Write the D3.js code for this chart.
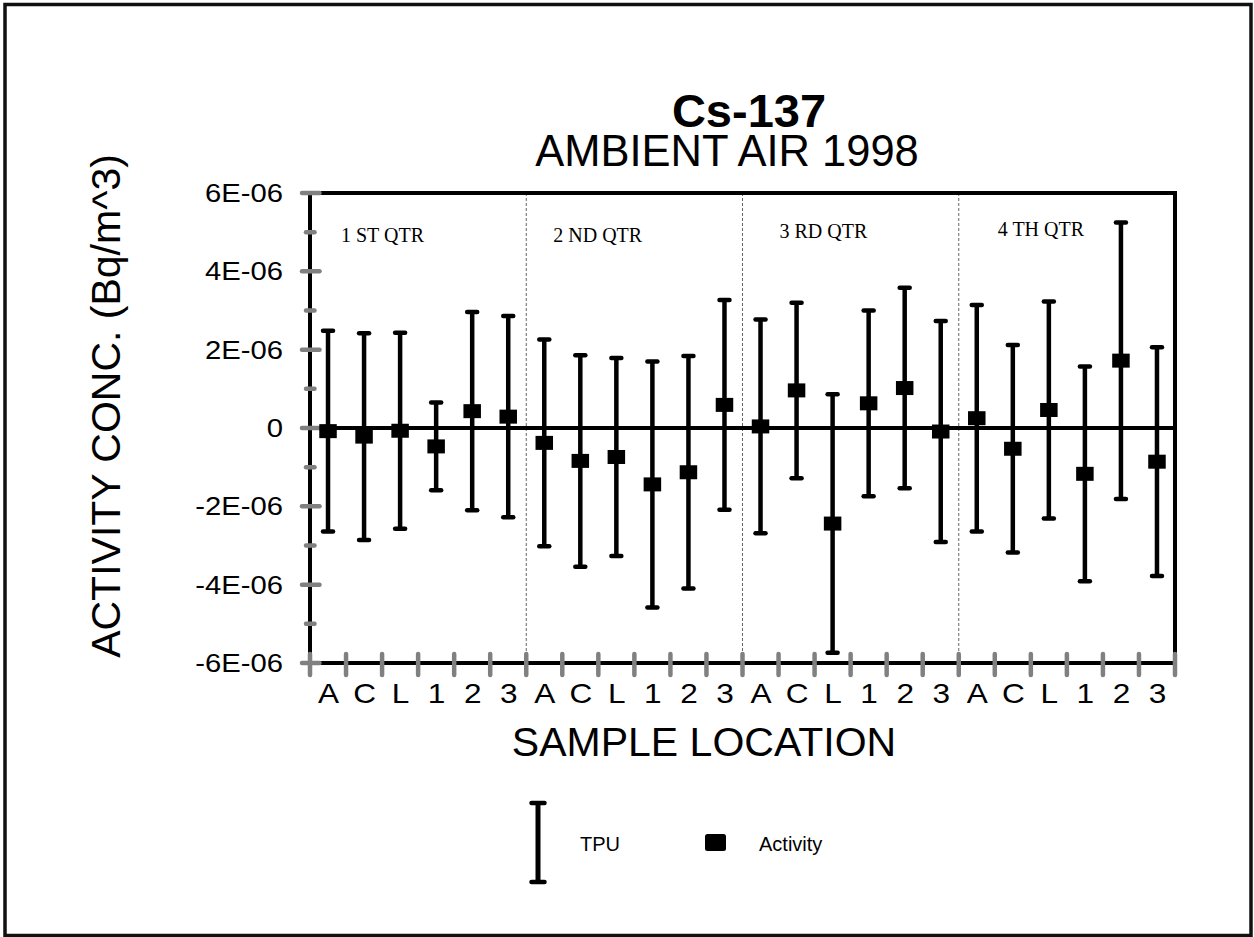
<!DOCTYPE html>
<html>
<head>
<meta charset="utf-8">
<script src="https://cdn.jsdelivr.net/npm/d3@7"></script>
<style>
  html, body { margin: 0; padding: 0; background: #fff; }
  svg { display: block; }
  text { font-family: "Liberation Sans", Arial, Helvetica, sans-serif; fill: #000; }
  .serif { font-family: "Liberation Serif", "Times New Roman", serif; }
</style>
</head>
<body>
<svg id="chart" width="1254" height="937"></svg>
<script>
// ---------------- DATA ----------------
const locations = ["A", "C", "L", "1", "2", "3"];
const quarters = ["1 ST QTR", "2 ND QTR", "3 RD QTR", "4 TH QTR"];
// Activity concentration, units of 1E-06 Bq/m^3 (Q1..Q4, locations A,C,L,1,2,3)
const activityQ1 = [-0.08, -0.22, -0.07, -0.47, 0.43, 0.29];
const activityQ2 = [-0.38, -0.84, -0.74, -1.44, -1.13, 0.59];
const activityQ3 = [0.04, 0.96, -2.44, 0.63, 1.02, -0.09];
const activityQ4 = [0.25, -0.53, 0.46, -1.17, 1.72, -0.86];
// Total propagated uncertainty (TPU), units of 1E-06 Bq/m^3
const tpuQ1 = [2.56, 2.64, 2.50, 1.12, 2.53, 2.57];
const tpuQ2 = [2.64, 2.70, 2.53, 3.14, 2.97, 2.68];
const tpuQ3 = [2.73, 2.24, 3.30, 2.37, 2.56, 2.82];
const tpuQ4 = [2.89, 2.65, 2.77, 2.74, 3.53, 2.92];
const yTickValues = [-6e-6, -4e-6, -2e-6, 0, 2e-6, 4e-6, 6e-6];
const yTickLabels = ["-6E-06", "-4E-06", "-2E-06", "0", "2E-06", "4E-06", "6E-06"];
const yMinorTickValues = [-5e-6, -3e-6, -1e-6, 1e-6, 3e-6, 5e-6];
const titleText = "Cs-137";
const subtitleText = "AMBIENT AIR 1998";
const yTitle = "ACTIVITY CONC. (Bq/m^3)";
const xTitle = "SAMPLE LOCATION";
const legendLabels = ["TPU", "Activity"];

// ---------------- BUILD ----------------
const activity = [activityQ1, activityQ2, activityQ3, activityQ4].flat().map(v => v * 1e-6);
const tpu = [tpuQ1, tpuQ2, tpuQ3, tpuQ4].flat().map(v => v * 1e-6);
const categories = quarters.flatMap(() => locations);
const data = categories.map((c, i) => ({ i, cat: c, v: activity[i], u: tpu[i] }));

const svg = d3.select("#chart");
const L = 310, R = 1175, T = 193, B = 663;
const GREY = "#808080";
const SX = 1.17; // horizontal stretch of tick label type

const x = d3.scaleLinear().domain([0, categories.length]).range([L, R]);
const y = d3.scaleLinear().domain([-6e-6, 6e-6]).range([B, T]);

// outer frame
svg.append("rect").attr("x", 5).attr("y", 4.5).attr("width", 1246).attr("height", 931)
  .attr("fill", "none").attr("stroke", "#111").attr("stroke-width", 3.5);

// titles
svg.append("text").attr("x", 749).attr("y", 127).attr("text-anchor", "middle")
  .attr("font-size", 47).attr("font-weight", "bold").text(titleText);
svg.append("text").attr("x", 727).attr("y", 166).attr("text-anchor", "middle")
  .attr("font-size", 43.5).text(subtitleText);

// quarter dividers
const qLen = locations.length;
for (let q = 1; q < quarters.length; q++) {
  svg.append("line").attr("x1", x(q * qLen)).attr("x2", x(q * qLen))
    .attr("y1", T).attr("y2", B)
    .attr("stroke", "#666").attr("stroke-width", 1).attr("stroke-dasharray", "3,2");
}

// quarter labels
const qDx = [31, 27, 37, 39], qBase = [242, 242, 238, 236];
quarters.forEach((q, k) => {
  svg.append("text").attr("class", "serif")
    .attr("x", x(k * qLen) + qDx[k]).attr("y", qBase[k])
    .attr("font-size", 20).text(q);
});

// plot box & zero line
svg.append("path")
  .attr("d", `M${L},${T}H${R}V${B}H${L}Z`)
  .attr("fill", "none").attr("stroke", "#000").attr("stroke-width", 4)
  .attr("stroke-linejoin", "miter");
svg.append("line").attr("x1", L).attr("x2", R).attr("y1", y(0)).attr("y2", y(0))
  .attr("stroke", "#000").attr("stroke-width", 4);

// grey ticks: x
const xTickPos = d3.range(0, categories.length + 1);
svg.append("g").selectAll("line").data(xTickPos).join("line")
  .attr("x1", d => x(d)).attr("x2", d => x(d))
  .attr("y1", B - 9).attr("y2", B + 12)
  .attr("stroke", GREY).attr("stroke-width", 4.5).attr("stroke-linecap", "round");
// grey ticks: y major & minor
svg.append("g").selectAll("line").data(yTickValues).join("line")
  .attr("x1", L - 8).attr("x2", L + 9.5)
  .attr("y1", d => y(d)).attr("y2", d => y(d))
  .attr("stroke", GREY).attr("stroke-width", 4.5).attr("stroke-linecap", "round");
svg.append("g").selectAll("line").data(yMinorTickValues).join("line")
  .attr("x1", L - 4).attr("x2", L + 4.5)
  .attr("y1", d => y(d)).attr("y2", d => y(d))
  .attr("stroke", GREY).attr("stroke-width", 4.5).attr("stroke-linecap", "round");

// y axis labels
const yAxis = d3.axisLeft(y).tickValues(yTickValues)
  .tickFormat((d, i) => yTickLabels[i]).tickSize(0).tickPadding(0);
const gy = svg.append("g").attr("transform", `translate(${L},0)`).call(yAxis);
gy.select(".domain").remove();
gy.selectAll("text")
  .attr("x", -23).attr("dy", "0.34em")
  .attr("transform", `scale(${SX},1)`)
  .style("font-family", "'Liberation Sans', Arial, sans-serif")
  .attr("font-size", 25).attr("fill", "#000");

// x axis labels
const xAxis = d3.axisBottom(x).tickValues(d3.range(0.5, categories.length))
  .tickFormat(d => categories[Math.floor(d)]).tickSize(0).tickPadding(0);
const gx = svg.append("g").attr("transform", `translate(0,${B})`).call(xAxis);
gx.select(".domain").remove();
gx.selectAll("text")
  .attr("y", 40).attr("dy", 0)
  .attr("transform", `scale(${SX},1)`)
  .style("font-family", "'Liberation Sans', Arial, sans-serif")
  .attr("font-size", 27).attr("fill", "#000");

// axis titles
svg.append("text").attr("transform", `translate(120,406) rotate(-90)`)
  .attr("text-anchor", "middle").attr("font-size", 41).text(yTitle);
svg.append("text").attr("x", 704).attr("y", 756).attr("text-anchor", "middle")
  .attr("font-size", 41).text(xTitle);

// error bars
const cx = d => x(d.i + 0.5);
const eb = svg.append("g");
eb.selectAll("line.stem").data(data).join("line").attr("class", "stem")
  .attr("x1", cx).attr("x2", cx)
  .attr("y1", d => y(d.v + d.u)).attr("y2", d => y(d.v - d.u))
  .attr("stroke", "#000").attr("stroke-width", 4.5);
eb.selectAll("line.capT").data(data).join("line").attr("class", "capT")
  .attr("x1", d => cx(d) - 5).attr("x2", d => cx(d) + 5)
  .attr("y1", d => y(d.v + d.u)).attr("y2", d => y(d.v + d.u))
  .attr("stroke", "#000").attr("stroke-width", 4.5).attr("stroke-linecap", "round");
eb.selectAll("line.capB").data(data).join("line").attr("class", "capB")
  .attr("x1", d => cx(d) - 5).attr("x2", d => cx(d) + 5)
  .attr("y1", d => y(d.v - d.u)).attr("y2", d => y(d.v - d.u))
  .attr("stroke", "#000").attr("stroke-width", 4.5).attr("stroke-linecap", "round");

// markers
const mw = 17.5, mh = 14;
svg.append("g").selectAll("rect").data(data).join("rect")
  .attr("x", d => cx(d) - mw / 2).attr("y", d => y(d.v) - mh / 2)
  .attr("width", mw).attr("height", mh).attr("fill", "#000");

// legend
const lg = svg.append("g");
lg.append("line").attr("x1", 538).attr("x2", 538).attr("y1", 803).attr("y2", 882)
  .attr("stroke", "#000").attr("stroke-width", 5);
[803, 882].forEach(yy => lg.append("line").attr("x1", 531.5).attr("x2", 544.5)
  .attr("y1", yy).attr("y2", yy).attr("stroke", "#000").attr("stroke-width", 4.5)
  .attr("stroke-linecap", "round"));
lg.append("text").attr("x", 580).attr("y", 851).attr("font-size", 20).text(legendLabels[0]);
lg.append("rect").attr("x", 705).attr("y", 834).attr("width", 21).attr("height", 17)
  .attr("rx", 2.5).attr("fill", "#000");
lg.append("text").attr("x", 759).attr("y", 851).attr("font-size", 20).text(legendLabels[1]);
</script>
</body>
</html>
